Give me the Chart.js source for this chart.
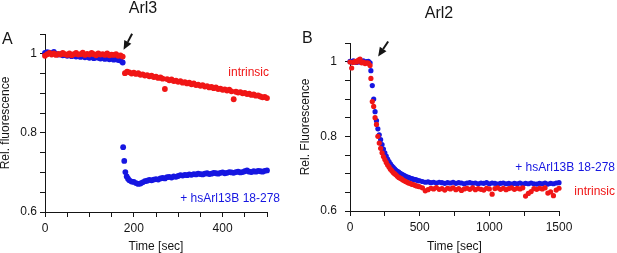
<!DOCTYPE html>
<html>
<head>
<meta charset="utf-8">
<script src="https://cdn.jsdelivr.net/npm/chart.js@4/dist/chart.umd.min.js"></script>
<style>
  html, body { margin: 0; padding: 0; background: #fff; }
  #wrap { position: relative; width: 617px; height: 253px; }
  canvas { position: absolute; top: 0; }
  #chartArl3 { left: 0; }
  #chartArl2 { left: 300px; }
</style>
</head>
<body>
<div id="wrap">
  <canvas id="chartArl3" width="300" height="253"></canvas>
  <canvas id="chartArl2" width="317" height="253"></canvas>
</div>
<script>
// Arl3 (panel A) - time in sec, relative fluorescence
const ARL3_PRE_TIME = [0, 5, 10, 15, 20, 25, 30, 35, 40, 45, 50, 55, 60, 65, 70, 75, 80, 85,
  90, 95, 100, 105, 110, 115, 120, 125, 130, 135, 140, 145, 150, 155, 160, 165, 170, 175];
const ARL3_INTRINSIC_PRE = [0.995, 0.999, 1.002, 0.998, 1.001, 0.997, 1.000, 0.998, 1.002, 0.999,
  0.997, 1.001, 0.996, 0.999, 1.002, 0.998, 0.999, 1.003, 0.997, 1.000,
  0.998, 1.002, 0.999, 0.996, 1.001, 0.998, 0.999, 0.997, 1.001, 0.996,
  0.998, 0.997, 0.999, 0.995, 0.996, 0.993];
const ARL3_BOUND_PRE = [1.002, 1.004, 1.003, 1.001, 1.005, 1.000, 0.998, 0.999, 0.996, 0.997,
  0.995, 0.997, 0.994, 0.996, 0.993, 0.995, 0.992, 0.994, 0.991, 0.993,
  0.990, 0.992, 0.989, 0.991, 0.990, 0.988, 0.990, 0.987, 0.989, 0.986,
  0.988, 0.985, 0.987, 0.984, 0.983, 0.978];

const ARL3_INTRINSIC_POST_TIME = [180, 185, 190, 195, 200, 205, 210, 215, 220, 225,
  230, 235, 240, 245, 250, 255, 260, 265, 270, 275,
  280, 285, 290, 295, 300, 305, 310, 315, 320, 325,
  330, 335, 340, 345, 350, 355, 360, 365, 370, 375,
  380, 385, 390, 395, 400, 405, 410, 415, 420, 425,
  430, 435, 440, 445, 450, 455, 460, 465, 470, 475,
  480, 485, 490, 495, 500];
const ARL3_INTRINSIC_POST = [0.951, 0.955, 0.953, 0.950, 0.952, 0.949, 0.951, 0.947, 0.948, 0.945,
  0.946, 0.943, 0.945, 0.941, 0.942, 0.939, 0.940, 0.937, 0.911, 0.936,
  0.933, 0.935, 0.931, 0.932, 0.929, 0.931, 0.927, 0.928, 0.925, 0.927,
  0.923, 0.925, 0.921, 0.922, 0.919, 0.921, 0.917, 0.918, 0.915, 0.916,
  0.913, 0.915, 0.911, 0.912, 0.909, 0.910, 0.907, 0.909, 0.905, 0.885,
  0.904, 0.902, 0.903, 0.900, 0.901, 0.898, 0.899, 0.896, 0.897, 0.894,
  0.895, 0.892, 0.890, 0.891, 0.888];

const ARL3_BOUND_POST_TIME = [176, 178.5, 181, 184, 187, 190,
  195, 200, 205, 210, 215, 220, 225, 230, 235, 240,
  245, 250, 255, 260, 265, 270, 275, 280, 285, 290,
  295, 300, 305, 310, 315, 320, 325, 330, 335, 340,
  345, 350, 355, 360, 365, 370, 375, 380, 385, 390,
  395, 400, 405, 410, 415, 420, 425, 430, 435, 440,
  445, 450, 455, 460, 465, 470, 475, 480, 485, 490,
  495, 500];
const ARL3_BOUND_POST = [0.764, 0.729, 0.701, 0.690, 0.684, 0.680,
  0.677, 0.676, 0.673, 0.671, 0.672, 0.675, 0.678, 0.679, 0.681, 0.680,
  0.682, 0.683, 0.682, 0.685, 0.686, 0.685, 0.688, 0.689, 0.687, 0.690,
  0.689, 0.691, 0.693, 0.692, 0.694, 0.693, 0.695, 0.694, 0.696, 0.695,
  0.697, 0.696, 0.695, 0.697, 0.698, 0.696, 0.697, 0.699, 0.698, 0.697,
  0.699, 0.700, 0.698, 0.699, 0.701, 0.700, 0.699, 0.701, 0.702, 0.700,
  0.701, 0.703, 0.705, 0.702, 0.701, 0.703, 0.702, 0.704, 0.703, 0.702,
  0.704, 0.705];

// Arl2 (panel B)
const ARL2_TIME = [0, 12, 24, 36, 48, 60, 72, 84, 96, 108, 120, 132, 144,
  150, 160, 170, 180, 190, 200, 210, 220, 230, 240, 250, 260, 270, 280, 290, 300,
  310, 320, 330, 340, 350, 360, 370, 380, 390, 400, 410, 420, 430, 440, 450, 460,
  470, 480, 490, 500,
  520, 540, 560, 580, 600, 620, 640, 660, 680, 700, 720, 740, 760, 780, 800,
  820, 840, 860, 880, 900, 920, 940, 960, 980, 1000, 1020, 1040, 1060, 1080, 1100,
  1120, 1140, 1160, 1180, 1200, 1220, 1240, 1260, 1280, 1300, 1320, 1340, 1360, 1380,
  1400, 1420, 1440, 1460, 1480, 1500];
const ARL2_INTRINSIC = [0.999, 0.983, 0.998, 1.001, 0.999, 1.004, 1.007, 0.997, 0.999, 0.995,
  0.997, 0.996, 0.990,
  0.955, 0.893, 0.880, 0.850, 0.832, 0.800, 0.782, 0.768, 0.756, 0.746, 0.738, 0.730,
  0.723, 0.718, 0.712, 0.708, 0.703, 0.700, 0.697, 0.693, 0.690, 0.688, 0.686, 0.683,
  0.681, 0.679, 0.677, 0.675, 0.674, 0.672, 0.671, 0.670, 0.668, 0.667, 0.666, 0.665,
  0.662, 0.654, 0.657, 0.661, 0.659, 0.663, 0.658, 0.660, 0.656, 0.661,
  0.659, 0.662, 0.657, 0.660, 0.655, 0.659, 0.661, 0.658, 0.662, 0.657,
  0.660, 0.658, 0.656, 0.661, 0.659, 0.645, 0.660, 0.662, 0.658, 0.661,
  0.657, 0.660, 0.662, 0.658, 0.661, 0.659, 0.662, 0.640, 0.647, 0.652,
  0.660, 0.658, 0.661, 0.659, 0.662, 0.648, 0.651, 0.641, 0.656, 0.661];
const ARL2_BOUND = [1.001, 0.999, 1.002, 1.000, 0.998, 1.001, 0.999, 1.000, 1.002, 0.998,
  1.000, 1.001, 0.997,
  0.976, 0.936, 0.900, 0.866, 0.842, 0.820, 0.804, 0.791, 0.778, 0.766, 0.756, 0.747,
  0.739, 0.732, 0.726, 0.721, 0.717, 0.713, 0.709, 0.706, 0.704, 0.701, 0.699, 0.697,
  0.695, 0.693, 0.691, 0.690, 0.688, 0.687, 0.686, 0.684, 0.684, 0.683, 0.681, 0.681,
  0.679, 0.677, 0.678, 0.676, 0.677, 0.675, 0.677, 0.676, 0.674, 0.676,
  0.675, 0.677, 0.674, 0.676, 0.675, 0.673, 0.675, 0.676, 0.674, 0.675,
  0.673, 0.675, 0.674, 0.676, 0.673, 0.675, 0.674, 0.672, 0.674, 0.675,
  0.673, 0.674, 0.672, 0.674, 0.673, 0.675, 0.672, 0.674, 0.673, 0.675,
  0.673, 0.672, 0.674, 0.673, 0.675, 0.672, 0.674, 0.673, 0.675, 0.676];

const ARL3_X_LABELS = [0, 200, 400];
const ARL2_X_LABELS = [0, 500, 1000, 1500];
const Y_LABELS = [0.6, 0.8, 1];

const RED = 'rgb(240, 22, 22)';
const BLUE = 'rgb(22, 22, 225)';
const INK = '#151515';
const FONT_FAMILY = 'Arial, "Liberation Sans", Helvetica, sans-serif';

function toPoints(times, values) {
  return times.map((t, i) => ({ x: t, y: values[i] }));
}

function labelIfListed(list, value) {
  const hit = list.find((v) => Math.abs(v - value) < 1e-6);
  return hit === undefined ? '' : String(hit);
}

const decorPlugin = {
  id: 'decor',
  afterDatasetsDraw(chart, args, opts) {
    const { ctx } = chart;
    const { x, y } = chart.scales;
    ctx.save();
    ctx.textBaseline = 'middle';
    ctx.fillStyle = INK;
    ctx.font = `16px ${FONT_FAMILY}`;
    ctx.textAlign = 'center';
    ctx.fillText(opts.title, opts.titlePos[0], opts.titlePos[1]);
    ctx.textAlign = 'left';
    ctx.fillText(opts.letter, opts.letterPos[0], opts.letterPos[1]);

    ctx.font = `12px ${FONT_FAMILY}`;
    ctx.textAlign = 'right';
    opts.notes.forEach((note) => {
      ctx.fillStyle = note.color;
      ctx.fillText(note.text, note.pos[0], note.pos[1]);
    });

    // arrow pointing at the addition time
    const tipX = x.getPixelForValue(opts.arrow.at[0]);
    const tipY = y.getPixelForValue(opts.arrow.at[1]);
    const tailX = tipX + opts.arrow.offset[0];
    const tailY = tipY + opts.arrow.offset[1];
    const ang = Math.atan2(tipY - tailY, tipX - tailX);
    const head = 9;
    const baseX = tipX - head * Math.cos(ang);
    const baseY = tipY - head * Math.sin(ang);
    ctx.strokeStyle = INK;
    ctx.fillStyle = INK;
    ctx.lineWidth = 2;
    ctx.beginPath();
    ctx.moveTo(tailX, tailY);
    ctx.lineTo(baseX, baseY);
    ctx.stroke();
    ctx.beginPath();
    ctx.moveTo(tipX, tipY);
    ctx.lineTo(baseX + 4 * Math.sin(ang), baseY - 4 * Math.cos(ang));
    ctx.lineTo(baseX - 4 * Math.sin(ang), baseY + 4 * Math.cos(ang));
    ctx.closePath();
    ctx.fill();
    ctx.restore();
  },
};

function axisGrid() {
  return {
    display: true,
    drawOnChartArea: false,
    drawTicks: true,
    tickLength: 5,
    color: INK,
    lineWidth: 1,
  };
}

function buildChart(canvasId, cfg) {
  const canvas = document.getElementById(canvasId);
  return new Chart(canvas.getContext('2d'), {
    type: 'scatter',
    data: { datasets: cfg.datasets },
    options: {
      responsive: false,
      animation: false,
      layout: { padding: cfg.padding },
      elements: { point: { radius: cfg.radius, borderWidth: 0, hoverRadius: cfg.radius } },
      scales: {
        x: {
          type: 'linear',
          min: 0,
          max: cfg.xMax,
          offset: false,
          border: { display: true, color: INK, width: 1 },
          grid: axisGrid(),
          ticks: {
            stepSize: cfg.xStep,
            autoSkip: false,
            maxRotation: 0,
            padding: 4,
            color: INK,
            font: { family: FONT_FAMILY, size: 12 },
            callback: (value) => labelIfListed(cfg.xLabels, value),
          },
          title: {
            display: true,
            text: 'Time [sec]',
            color: INK,
            font: { family: FONT_FAMILY, size: 12, lineHeight: 1 },
            padding: { top: 0, bottom: 0 },
          },
          afterFit: (scale) => { scale.height = cfg.xHeight; },
        },
        y: {
          type: 'linear',
          min: 0.6,
          max: 1.05,
          border: { display: true, color: INK, width: 1 },
          grid: axisGrid(),
          ticks: {
            stepSize: 0.05,
            autoSkip: false,
            padding: cfg.yTickPad,
            color: INK,
            font: { family: FONT_FAMILY, size: 12 },
            callback: (value) => labelIfListed(Y_LABELS, value),
          },
          title: {
            display: true,
            text: cfg.yTitle,
            color: INK,
            font: { family: FONT_FAMILY, size: 12, lineHeight: 1 },
            padding: { top: 0, bottom: 0 },
          },
          afterFit: (scale) => { scale.width = cfg.yWidth; },
        },
      },
      plugins: {
        legend: { display: false },
        tooltip: { enabled: false },
        decor: cfg.decor,
      },
    },
    plugins: [decorPlugin],
  });
}

buildChart('chartArl3', {
  datasets: [
    {
      label: 'intrinsic',
      data: toPoints(ARL3_PRE_TIME.concat(ARL3_INTRINSIC_POST_TIME),
        ARL3_INTRINSIC_PRE.concat(ARL3_INTRINSIC_POST)),
      backgroundColor: RED,
      clip: false,
    },
    {
      label: '+ hsArl13B 18-278',
      data: toPoints(ARL3_PRE_TIME.concat(ARL3_BOUND_POST_TIME),
        ARL3_BOUND_PRE.concat(ARL3_BOUND_POST)),
      backgroundColor: BLUE,
      clip: false,
    },
  ],
  padding: { top: 34, right: 33, bottom: 0, left: 0 },
  radius: 2.9,
  xMax: 500,
  xStep: 50,
  xLabels: ARL3_X_LABELS,
  xHeight: 41,
  yWidth: 45,
  yTickPad: 3,
  yTitle: 'Rel. fluorescence',
  decor: {
    title: 'Arl3',
    titlePos: [143, 9],
    letter: 'A',
    letterPos: [2, 40],
    notes: [
      { text: 'intrinsic', color: RED, pos: [269, 73] },
      { text: '+ hsArl13B 18-278', color: BLUE, pos: [280, 199] },
    ],
    arrow: { at: [177, 1.01], offset: [8.5, -16] },
  },
});

buildChart('chartArl2', {
  datasets: [
    {
      label: 'intrinsic',
      data: toPoints(ARL2_TIME, ARL2_INTRINSIC),
      backgroundColor: RED,
      clip: false,
    },
    {
      label: '+ hsArl13B 18-278',
      data: toPoints(ARL2_TIME, ARL2_BOUND),
      backgroundColor: BLUE,
      clip: false,
    },
  ],
  padding: { top: 43, right: 58, bottom: 0, left: 0 },
  radius: 2.6,
  xMax: 1500,
  xStep: 250,
  xLabels: ARL2_X_LABELS,
  xHeight: 42,
  yWidth: 50,
  yTickPad: 8,
  yTitle: 'Rel. Fluorescence',
  decor: {
    title: 'Arl2',
    titlePos: [139, 14],
    letter: 'B',
    letterPos: [2, 39],
    notes: [
      { text: '+ hsArl13B 18-278', color: BLUE, pos: [315, 168] },
      { text: 'intrinsic', color: RED, pos: [315, 192] },
    ],
    arrow: { at: [202, 1.014], offset: [10, -15] },
  },
});
</script>
</body>
</html>
